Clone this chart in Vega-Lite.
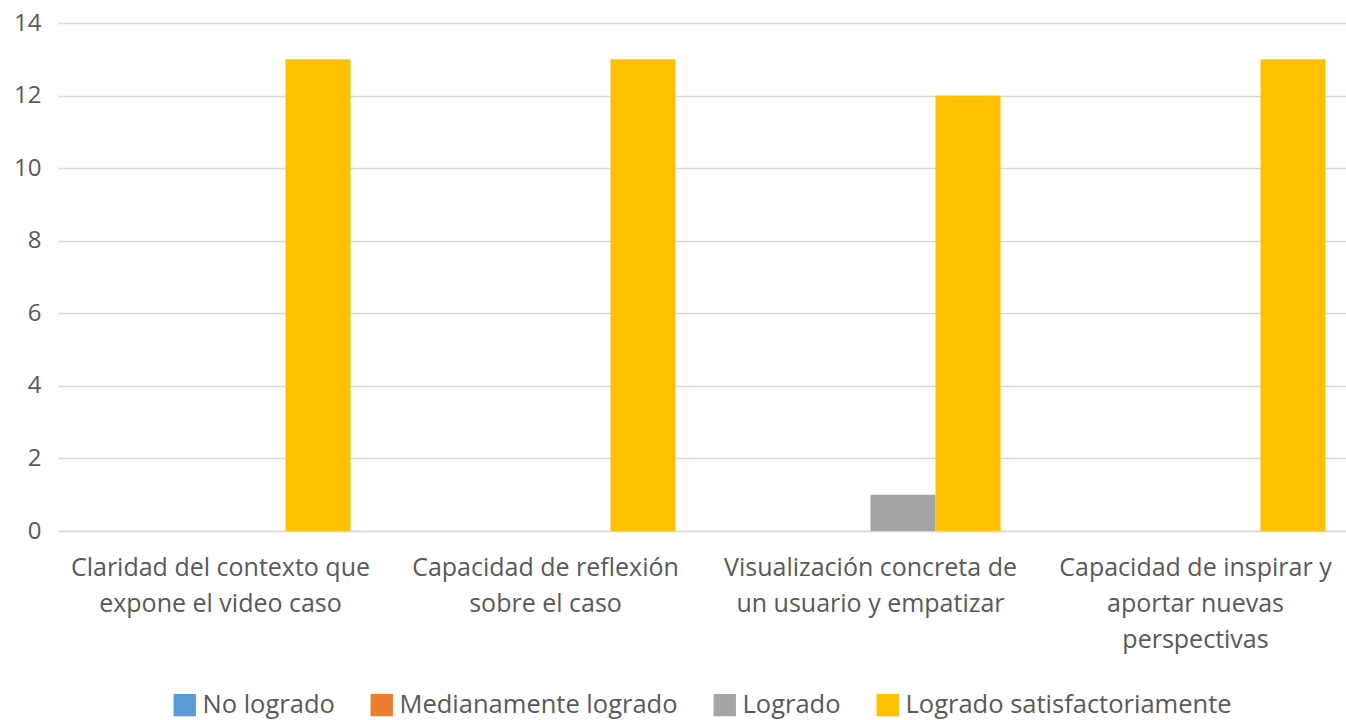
{
  "$schema": "https://vega.github.io/schema/vega-lite/v6.json",
  "autosize": {"type": "none"},
  "width": 1288,
  "height": 508,
  "padding": {"left": 58, "top": 23, "right": 0, "bottom": 189},
  "background": "white",
  "config": {
    "view": {"stroke": null},
    "font": "Open Sans"
  },
  "data": {
    "values": [
      {"criterio": "Claridad del contexto que|expone el video caso", "nivel": "No logrado", "valor": 0},
      {"criterio": "Claridad del contexto que|expone el video caso", "nivel": "Medianamente logrado", "valor": 0},
      {"criterio": "Claridad del contexto que|expone el video caso", "nivel": "Logrado", "valor": 0},
      {"criterio": "Claridad del contexto que|expone el video caso", "nivel": "Logrado satisfactoriamente", "valor": 13},
      {"criterio": "Capacidad de reflexión|sobre el caso", "nivel": "No logrado", "valor": 0},
      {"criterio": "Capacidad de reflexión|sobre el caso", "nivel": "Medianamente logrado", "valor": 0},
      {"criterio": "Capacidad de reflexión|sobre el caso", "nivel": "Logrado", "valor": 0},
      {"criterio": "Capacidad de reflexión|sobre el caso", "nivel": "Logrado satisfactoriamente", "valor": 13},
      {"criterio": "Visualización concreta de|un usuario y empatizar", "nivel": "No logrado", "valor": 0},
      {"criterio": "Visualización concreta de|un usuario y empatizar", "nivel": "Medianamente logrado", "valor": 0},
      {"criterio": "Visualización concreta de|un usuario y empatizar", "nivel": "Logrado", "valor": 1},
      {"criterio": "Visualización concreta de|un usuario y empatizar", "nivel": "Logrado satisfactoriamente", "valor": 12},
      {"criterio": "Capacidad de inspirar y|aportar nuevas|perspectivas", "nivel": "No logrado", "valor": 0},
      {"criterio": "Capacidad de inspirar y|aportar nuevas|perspectivas", "nivel": "Medianamente logrado", "valor": 0},
      {"criterio": "Capacidad de inspirar y|aportar nuevas|perspectivas", "nivel": "Logrado", "valor": 0},
      {"criterio": "Capacidad de inspirar y|aportar nuevas|perspectivas", "nivel": "Logrado satisfactoriamente", "valor": 13}
    ]
  },
  "mark": {"type": "bar"},
  "encoding": {
    "x": {
      "field": "criterio", "type": "nominal", "sort": null, "title": null,
      "scale": {"paddingInner": 0.2, "paddingOuter": 0.1, "range": [0, 1300]},
      "axis": {
        "labelExpr": "split(datum.label, '|')",
        "labelAngle": 0, "labelFontSize": 25, "labelColor": "#595959",
        "labelLineHeight": 36, "labelPadding": 24, "labelLimit": 500,
        "domain": true, "domainColor": "#d9d9d9", "domainWidth": 1.5, "ticks": false
      }
    },
    "xOffset": {"field": "nivel", "type": "nominal", "sort": ["No logrado", "Medianamente logrado", "Logrado", "Logrado satisfactoriamente"], "scale": {"padding": 0}},
    "y": {
      "field": "valor", "type": "quantitative", "title": null,
      "scale": {"domain": [0, 14]},
      "axis": {
        "values": [0, 2, 4, 6, 8, 10, 12, 14],
        "labelFontSize": 24, "labelColor": "#595959", "labelPadding": 17,
        "domain": false, "ticks": false,
        "gridColor": "#d9d9d9", "gridWidth": 1.5
      }
    },
    "color": {
      "field": "nivel", "type": "nominal",
      "sort": ["No logrado", "Medianamente logrado", "Logrado", "Logrado satisfactoriamente"],
      "scale": {
        "domain": ["No logrado", "Medianamente logrado", "Logrado", "Logrado satisfactoriamente"],
        "range": ["#5b9bd5", "#ed7d31", "#a5a5a5", "#ffc000"]
      },
      "legend": {
        "title": null, "orient": "none", "direction": "horizontal",
        "legendX": 114, "legendY": 669,
        "symbolType": "square", "symbolSize": 500, "symbolStrokeWidth": 0,
        "labelFontSize": 25.5, "labelColor": "#595959", "columnPadding": 34, "labelOffset": 5, "labelLimit": 600
      }
    }
  }
}
